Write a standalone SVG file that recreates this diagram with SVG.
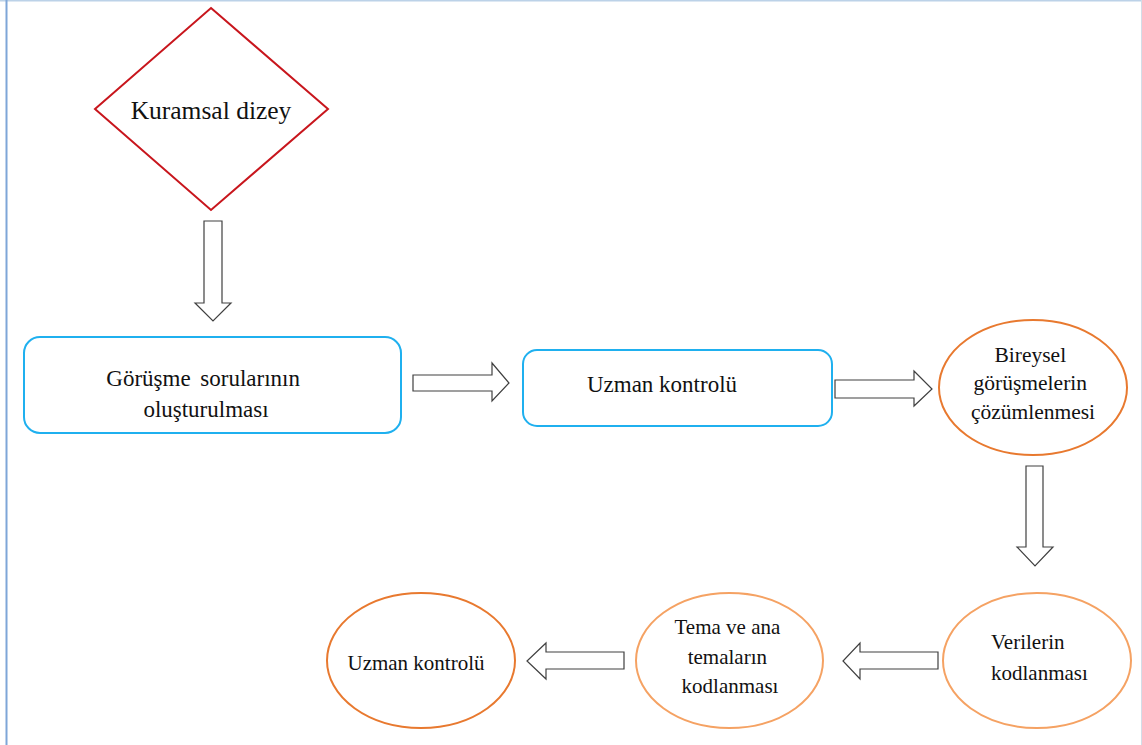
<svg xmlns="http://www.w3.org/2000/svg" width="1142" height="745" viewBox="0 0 1142 745">
  <style>
    text { font-family: 'Liberation Serif', 'Times New Roman', serif; fill: #111; }
    .box { fill: #fff; stroke: #1fb0ef; stroke-width: 2; }
    .oval-dark { fill: #fff; stroke: #e8792f; stroke-width: 2; }
    .oval-light { fill: #fff; stroke: #f5a263; stroke-width: 2; }
    .block-arrow { fill: #fff; stroke: #404040; stroke-width: 1.2; stroke-linejoin: miter; }
  </style>

  <rect x="0" y="0" width="1142" height="745" fill="#fff"/>

  <!-- page frame -->
  <g id="frame" fill="none">
    <line x1="0" y1="0.75" x2="1142" y2="0.75" stroke="#bcd2e8" stroke-width="1.5"/>
    <line x1="6.5" y1="0" x2="6.5" y2="745" stroke="#7ea6d8" stroke-width="2"/>
    <line x1="1141.5" y1="0" x2="1141.5" y2="745" stroke="#d3dde8" stroke-width="1"/>
  </g>

  <!-- block arrows -->
  <g id="connectors">
    <polygon class="block-arrow" points="204,221 222,221 222,303 231,303 213,321 195,303 204,303"/>
    <polygon class="block-arrow" points="413,375 492,375 492,363 509,383 492,401 492,391 413,391"/>
    <polygon class="block-arrow" points="835,380 914,380 914,371 932,389 914,406 914,398 835,398"/>
    <polygon class="block-arrow" points="1026,466 1043,466 1043,547 1053,547 1035,566 1017,547 1026,547"/>
    <polygon class="block-arrow" points="938,652 860,652 860,643 843,661 860,679 860,669 938,669"/>
    <polygon class="block-arrow" points="624,652 546,652 546,643 527,661 546,679 546,669 624,669"/>
  </g>

  <g id="kuramsal-dizey">
    <polygon points="211,8 328,109 211,210 95,109" fill="#fff" stroke="#c8161d" stroke-width="2"/>
    <text x="211" y="119" font-size="25.5" text-anchor="middle">Kuramsal dizey</text>
  </g>

  <g id="gorusme-sorulari">
    <rect class="box" x="24" y="337" width="377" height="96" rx="16"/>
    <text font-size="23" text-anchor="middle">
      <tspan x="206" y="386" word-spacing="4">Görüşme sorularının</tspan>
      <tspan x="206" y="417">oluşturulması</tspan>
    </text>
  </g>

  <g id="uzman-kontrolu-1">
    <rect class="box" x="523" y="350" width="309" height="76" rx="14"/>
    <text x="662" y="392" font-size="23" text-anchor="middle">Uzman kontrolü</text>
  </g>

  <g id="bireysel-gorusmeler">
    <ellipse class="oval-dark" cx="1033" cy="387.5" rx="94" ry="67.5"/>
    <text font-size="21.5" text-anchor="middle">
      <tspan x="1033" y="362">Bireysel</tspan>
      <tspan x="1033" y="390">görüşmelerin</tspan>
      <tspan x="1033" y="419">çözümlenmesi</tspan>
    </text>
  </g>

  <g id="verilerin-kodlanmasi">
    <ellipse class="oval-light" cx="1037" cy="660.5" rx="94" ry="67.5"/>
    <text font-size="21">
      <tspan x="991" y="649">Verilerin</tspan>
      <tspan x="991" y="680">kodlanması</tspan>
    </text>
  </g>

  <g id="tema-kodlanmasi">
    <ellipse class="oval-light" cx="729.5" cy="660.5" rx="93.5" ry="67.5"/>
    <text font-size="21" text-anchor="middle">
      <tspan x="730" y="634">Tema ve ana</tspan>
      <tspan x="730" y="664">temaların</tspan>
      <tspan x="730" y="693">kodlanması</tspan>
    </text>
  </g>

  <g id="uzman-kontrolu-2">
    <ellipse class="oval-dark" cx="421" cy="660.5" rx="94" ry="67.5"/>
    <text x="416" y="670" font-size="21" text-anchor="middle">Uzman kontrolü</text>
  </g>
</svg>
